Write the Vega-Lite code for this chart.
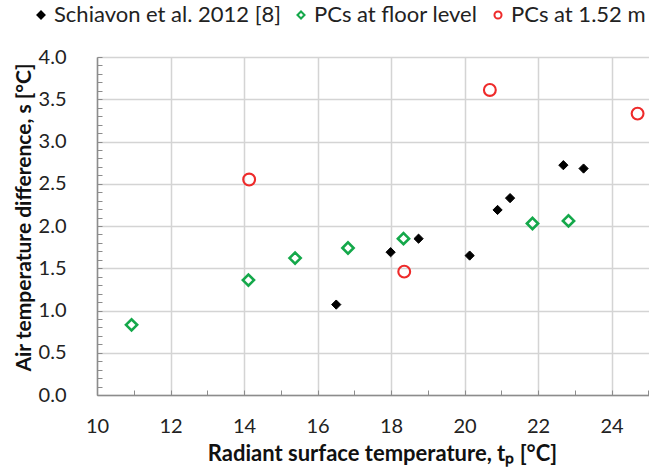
{
  "$schema": "https://vega.github.io/schema/vega-lite/v6.json",
  "width": 588,
  "height": 338,
  "autosize": {"type": "none"},
  "padding": {"left": 97, "top": 57, "right": 0, "bottom": 76},
  "background": "white",
  "config": {"font": "Lato", "view": {"stroke": null}},
  "data": {
    "values": [
      {"series": "Schiavon et al. 2012 [8]", "t": 16.51, "s": 1.07},
      {"series": "Schiavon et al. 2012 [8]", "t": 17.99, "s": 1.69},
      {"series": "Schiavon et al. 2012 [8]", "t": 18.75, "s": 1.85},
      {"series": "Schiavon et al. 2012 [8]", "t": 20.14, "s": 1.65},
      {"series": "Schiavon et al. 2012 [8]", "t": 20.90, "s": 2.19},
      {"series": "Schiavon et al. 2012 [8]", "t": 21.24, "s": 2.33},
      {"series": "Schiavon et al. 2012 [8]", "t": 22.69, "s": 2.72},
      {"series": "Schiavon et al. 2012 [8]", "t": 23.24, "s": 2.68},
      {"series": "PCs at floor level", "t": 10.94, "s": 0.83},
      {"series": "PCs at floor level", "t": 14.12, "s": 1.36},
      {"series": "PCs at floor level", "t": 15.39, "s": 1.62},
      {"series": "PCs at floor level", "t": 16.83, "s": 1.74},
      {"series": "PCs at floor level", "t": 18.34, "s": 1.85},
      {"series": "PCs at floor level", "t": 21.85, "s": 2.03},
      {"series": "PCs at floor level", "t": 22.83, "s": 2.06},
      {"series": "PCs at 1.52 m", "t": 14.14, "s": 2.55},
      {"series": "PCs at 1.52 m", "t": 18.36, "s": 1.46},
      {"series": "PCs at 1.52 m", "t": 20.69, "s": 3.61},
      {"series": "PCs at 1.52 m", "t": 24.71, "s": 3.33}
    ]
  },
  "encoding": {
    "x": {
      "field": "t",
      "type": "quantitative",
      "scale": {"domain": [10, 26], "nice": false, "zero": false},
      "axis": {
        "title": "Radiant surface temperature, tₚ [°C]",
        "values": [10,10.5,11,11.5,12,12.5,13,13.5,14,14.5,15,15.5,16,16.5,17,17.5,18,18.5,19,19.5,20,20.5,21,21.5,22,22.5,23,23.5,24,24.5,25,25.5,26],
        "format": "d",
        "labelExpr": "datum.value % 2 === 0 && datum.value < 25 ? datum.label : ''",
        "labelOverlap": false,
        "labelFlush": false,
        "labelBound": false,
        "labelFontSize": 20,
        "labelColor": "#222222",
        "labelPadding": 26,
        "tickSize": -5,
        "tickColor": "#8c8c8c",
        "tickWidth": 1,
        "domainColor": "#8c8c8c",
        "domainWidth": 1.5,
        "grid": true,
        "gridColor": "#d4d4d4",
        "gridWidth": 1.5,
        "gridOpacity": {"condition": {"test": "datum.value % 2 === 0", "value": 1}, "value": 0},
        "titleFontSize": 22,
        "titleFontWeight": "bold",
        "titleColor": "#111111",
        "titleX": 285,
        "titlePadding": 7
      }
    },
    "y": {
      "field": "s",
      "type": "quantitative",
      "scale": {"domain": [0, 4], "nice": false, "zero": true},
      "axis": {
        "title": "Air temperature difference, s  [°C]",
        "values": [0,0.1,0.2,0.3,0.4,0.5,0.6,0.7,0.8,0.9,1,1.1,1.2,1.3,1.4,1.5,1.6,1.7,1.8,1.9,2,2.1,2.2,2.3,2.4,2.5,2.6,2.7,2.8,2.9,3,3.1,3.2,3.3,3.4,3.5,3.6,3.7,3.8,3.9,4],
        "format": ".1f",
        "labelExpr": "abs(datum.value*2 - round(datum.value*2)) < 0.000001 ? datum.label : ''",
        "labelOverlap": false,
        "labelFlush": false,
        "labelBound": false,
        "labelFontSize": 20,
        "labelColor": "#222222",
        "labelPadding": 36,
        "tickSize": -5,
        "tickColor": "#8c8c8c",
        "tickWidth": 1,
        "domainColor": "#8c8c8c",
        "domainWidth": 1.5,
        "grid": true,
        "gridColor": "#d4d4d4",
        "gridWidth": 1.5,
        "gridOpacity": {"condition": {"test": "abs(datum.value*2 - round(datum.value*2)) < 0.000001", "value": 1}, "value": 0},
        "titleFontSize": 21,
        "titleFontWeight": "bold",
        "titleColor": "#111111",
        "titleY": 160,
        "titlePadding": 4
      }
    },
    "shape": {
      "field": "series",
      "type": "nominal",
      "scale": {"domain": ["Schiavon et al. 2012 [8]", "PCs at floor level", "PCs at 1.52 m"], "range": ["diamond", "diamond", "circle"]},
      "legend": {
        "orient": "none",
        "legendX": -67,
        "legendY": -53,
        "direction": "horizontal",
        "title": null,
        "labelFontSize": 22,
        "labelColor": "#222222",
        "labelLimit": 400,
        "labelOffset": 2,
        "symbolSize": 50,
        "symbolStrokeWidth": 2,
        "columnPadding": 9,
        "padding": 0
      }
    },
    "stroke": {
      "field": "series",
      "type": "nominal",
      "scale": {"domain": ["Schiavon et al. 2012 [8]", "PCs at floor level", "PCs at 1.52 m"], "range": ["#000000", "#14a84a", "#ee2a2a"]}
    },
    "fill": {
      "field": "series",
      "type": "nominal",
      "scale": {"domain": ["Schiavon et al. 2012 [8]", "PCs at floor level", "PCs at 1.52 m"], "range": ["#000000", "transparent", "transparent"]}
    }
  },
  "layer": [
    {
      "transform": [{"filter": "datum.series === 'Schiavon et al. 2012 [8]'"}],
      "mark": {"type": "point", "opacity": 1, "size": 85, "strokeWidth": 1}
    },
    {
      "transform": [{"filter": "datum.series === 'PCs at floor level'"}],
      "mark": {"type": "point", "opacity": 1, "size": 125, "strokeWidth": 2.6}
    },
    {
      "transform": [{"filter": "datum.series === 'PCs at 1.52 m'"}],
      "mark": {"type": "point", "opacity": 1, "size": 140, "strokeWidth": 2.1}
    }
  ]
}
